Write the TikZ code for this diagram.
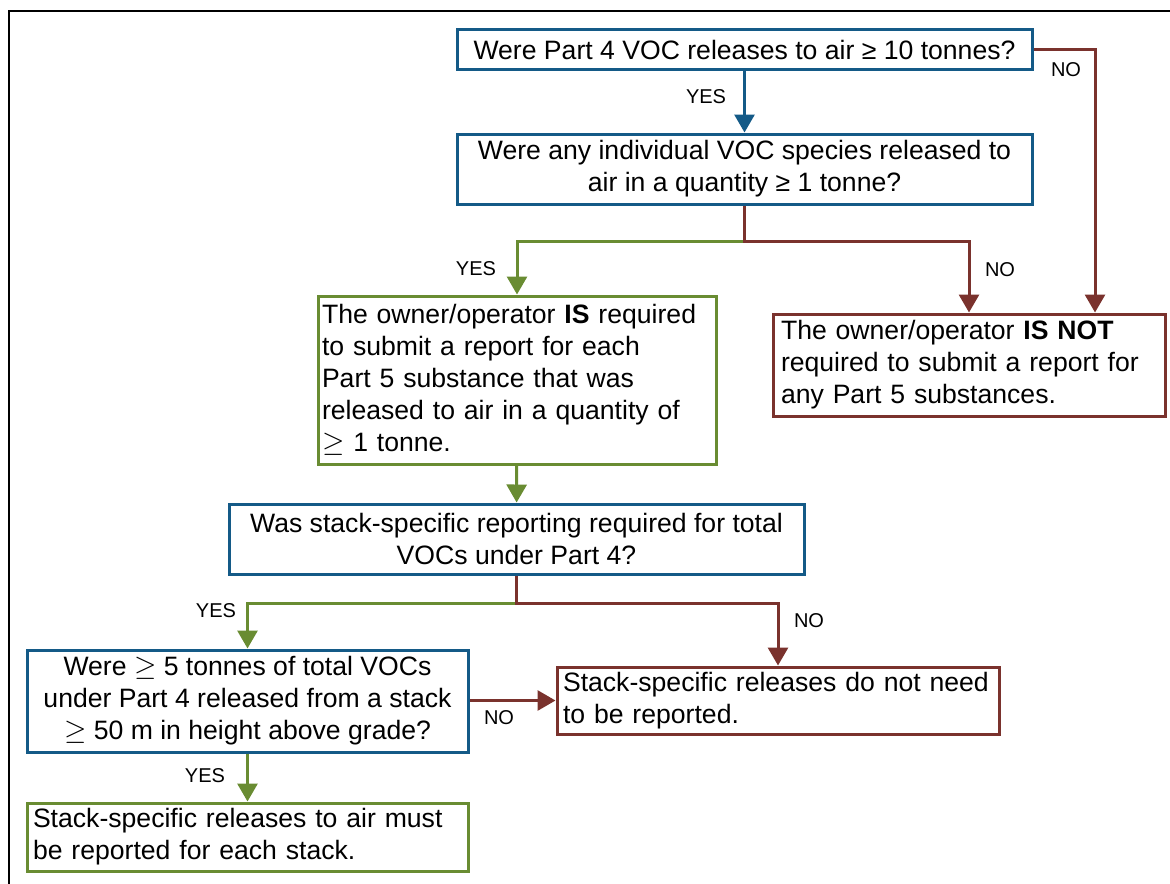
\documentclass[tikz,border=0pt]{standalone}
\usepackage{fontspec}
\setmainfont{Liberation Sans}
\usetikzlibrary{arrows.meta}
\definecolor{qblue}{RGB}{20,90,135}
\definecolor{qgreen}{RGB}{105,140,50}
\definecolor{qbrown}{RGB}{122,50,45}

\begin{document}
\begin{tikzpicture}[x=0.5pt,y=-0.5pt,
  box/.style={draw,line width=1.5pt,fill=white,inner sep=2pt,font=\fontsize{13.3}{16}\selectfont},
  ask/.style={box,draw=qblue,align=center},
  yesbox/.style={box,draw=qgreen,align=left},
  nobox/.style={box,draw=qbrown,align=left},
  lbl/.style={font=\fontsize{10}{12}\selectfont},
  flow/.style={line width=1.5pt,-{Triangle[length=9pt,width=10pt]}}]
\useasboundingbox (0,0) rectangle (1170,883);
\draw[line width=1.4pt] (9,900) -- (9,11) -- (1190,11);
\node[ask,minimum width=287.5pt,minimum height=20pt] (A) at (744.5,50)
  {Were Part 4 VOC releases to air ≥ 10 tonnes?};
\node[ask,minimum width=287.5pt,minimum height=35pt] (B) at (744.5,169)
  {Were any individual VOC species released to\\air in a quantity ≥ 1 tonne?};
\node[yesbox,text width=195pt,minimum height=84pt] (C) at (517,380)
  {The owner/operator \textbf{IS} required\\to submit a report for each\\Part 5 substance that was\\released to air in a quantity of\\$\geq$ 1 tonne.};
\node[nobox,inner xsep=4pt,text width=188pt,minimum height=51pt] (D) at (969,365)
  {The owner/operator \textbf{IS NOT}\\required to submit a report for\\any Part 5 substances.};
\node[ask,minimum width=287.5pt,minimum height=35pt] (E) at (516.5,539)
  {Was stack-specific reporting required for total\\VOCs under Part 4?};
\node[ask,minimum width=220.5pt,minimum height=51pt] (F) at (247.5,701)
  {Were $\geq$ 5 tonnes of total VOCs\\under Part 4 released from a stack\\$\geq$ 50 m in height above grade?};
\node[nobox,inner xsep=3pt,text width=215pt,minimum height=33.5pt] (G) at (778,700.5)
  {Stack-specific releases do not need\\to be reported.};
\node[yesbox,inner xsep=3pt,text width=214.5pt,minimum height=34pt] (H) at (247.5,837)
  {Stack-specific releases to air must\\be reported for each stack.};
\coordinate (b1) at (744.5,241);
\coordinate (e1) at (516.5,603);
\draw[flow,qblue] (A) -- (B);
\draw[flow,qbrown] (A.east) -| ([xshift=63pt]D.north);
\draw[flow,qgreen] (b1) -| (C.north);
\draw[flow,qbrown] (B.south) -- (b1) -| (D.north);
\draw[flow,qgreen] (C) -- (E);
\draw[flow,qgreen] (e1) -| (F.north);
\draw[flow,qbrown] (E.south) -- (e1) -| (G.north);
\draw[flow,qbrown] (F.east |- G.west) -- (G.west);
\draw[flow,qgreen] (F) -- (H);
\foreach \n/\p/\t in {ya/{706,97}/YES,na/{1066,70}/NO,yb/{476,269}/YES,nb/{1000,270}/NO,
  ye/{216,611}/YES,ne/{809,621}/NO,nf/{499,718}/NO,yf/{205,776}/YES}
  \node[lbl] (l\n) at (\p) {\t};
\end{tikzpicture}
\end{document}
